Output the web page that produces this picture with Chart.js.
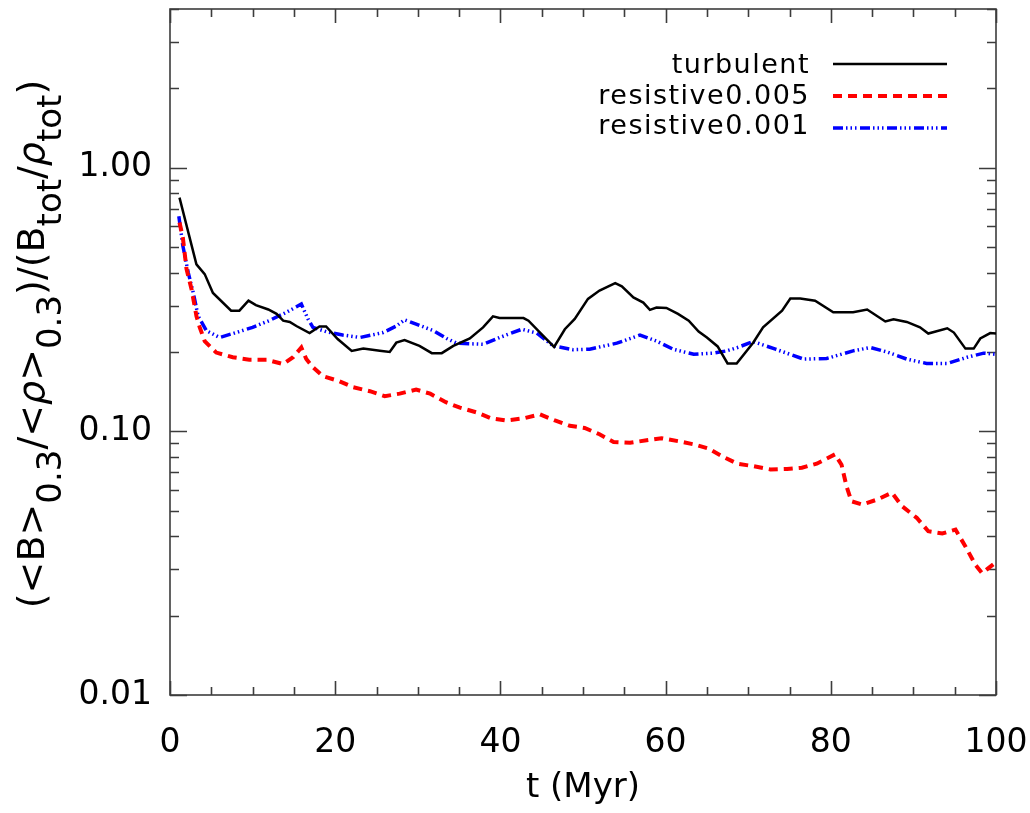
<!DOCTYPE html>
<html>
<head>
<meta charset="utf-8">
<script src="https://cdn.jsdelivr.net/npm/chart.js@4.4.1/dist/chart.umd.min.js"></script>
<style>
  html, body { margin: 0; padding: 0; background: #fff; }
</style>
</head>
<body>
<canvas id="myChart" width="1030" height="813"></canvas>
<script>
// time (Myr) and normalised field ratio for each run
const tTurb = [1.15, 3.2, 4.2, 5.2, 7.4, 8.4, 9.5, 10.4, 11.9, 12.9, 13.7, 14.5, 15.3, 16.9, 18.1,
  18.9, 20.3, 22.0, 23.4, 25.4, 26.6, 27.4, 28.4, 30.2, 31.7, 32.9, 34.3, 36.3, 37.9, 39.1,
  39.9, 42.8, 43.4, 44.8, 46.5, 47.8, 49.0, 50.6, 52.0, 53.9, 54.7, 56.1, 57.3, 58.1, 58.9,
  60.1, 61.5, 62.8, 64.0, 65.0, 66.3, 67.5, 68.6, 70.6, 71.8, 74.1, 75.1, 76.3, 78.1, 80.3,
  82.7, 84.4, 86.6, 87.6, 89.2, 90.8, 91.8, 94.1, 94.9, 96.3, 97.3, 98.1, 99.3, 100];
const turbulent = [0.77, 0.43, 0.395, 0.335, 0.287, 0.287, 0.313, 0.301, 0.29, 0.279, 0.263, 0.26, 0.251, 0.236, 0.25,
  0.25, 0.224, 0.202, 0.206, 0.202, 0.2, 0.217, 0.222, 0.211, 0.198, 0.198, 0.211, 0.225, 0.248, 0.273,
  0.269, 0.269, 0.263, 0.237, 0.209, 0.244, 0.267, 0.318, 0.342, 0.365, 0.355, 0.322, 0.308, 0.289, 0.295,
  0.294, 0.279, 0.263, 0.239, 0.227, 0.21, 0.181, 0.181, 0.217, 0.248, 0.287, 0.319, 0.319, 0.313, 0.283,
  0.283, 0.29, 0.261, 0.266, 0.26, 0.248, 0.235, 0.246, 0.237, 0.206, 0.206, 0.225, 0.236, 0.235];

const tRes5 = [1.15, 1.55, 2.0, 2.6, 3.2, 3.6, 4.2, 5.6, 7.6, 9.6, 11.7, 13.7, 14.9, 15.9, 16.5,
  17.3, 18.5, 20.5, 22.2, 24.2, 26.0, 27.8, 29.8, 31.5, 33.4, 35.1, 37.1, 38.9, 40.7, 42.8,
  44.8, 46.6, 48.4, 50.2, 52.0, 53.7, 55.7, 57.7, 59.5, 61.5, 63.4, 65.2, 67.0, 68.7, 70.6,
  72.7, 74.7, 76.5, 78.3, 79.7, 80.5, 81.3, 81.9, 82.5, 83.8, 85.6, 87.4, 88.6, 90.4, 91.8,
  93.5, 95.1, 96.3, 97.5, 98.3, 100];
const resistive005 = [0.62, 0.545, 0.413, 0.347, 0.274, 0.248, 0.22, 0.199, 0.191, 0.187, 0.187, 0.18, 0.191, 0.208, 0.188,
  0.175, 0.162, 0.155, 0.147, 0.142, 0.136, 0.139, 0.144, 0.139, 0.129, 0.123, 0.118, 0.112, 0.11, 0.112,
  0.116, 0.11, 0.105, 0.103, 0.0975, 0.0911, 0.0905, 0.0925, 0.0942, 0.0918, 0.0893, 0.086, 0.08, 0.0754, 0.0738,
  0.0717, 0.072, 0.0728, 0.0754, 0.0794, 0.0818, 0.0747, 0.062, 0.0543, 0.0528, 0.0551, 0.0585, 0.0521, 0.047, 0.0418,
  0.041, 0.0424, 0.0366, 0.0312, 0.029, 0.0319];

const tRes1 = [1.07, 1.55, 2.2, 2.8, 3.4, 4.4, 6.0, 8.0, 10.0, 12.0, 14.1, 15.9, 16.7, 17.3, 18.9,
  20.9, 23.0, 25.8, 27.4, 28.4, 29.8, 31.9, 33.5, 34.7, 37.9, 39.9, 42.6, 44.4, 46.4, 48.8,
  50.8, 54.1, 56.9, 58.9, 60.9, 63.4, 65.8, 67.4, 68.7, 70.6, 73.3, 76.7, 79.5, 82.7, 84.8,
  86.8, 89.2, 91.6, 94.1, 96.5, 98.5, 100];
const resistive001 = [0.655, 0.507, 0.401, 0.337, 0.274, 0.241, 0.227, 0.237, 0.248, 0.263, 0.283, 0.304, 0.267, 0.248, 0.239,
  0.232, 0.227, 0.237, 0.251, 0.265, 0.255, 0.241, 0.225, 0.216, 0.214, 0.227, 0.244, 0.236, 0.211, 0.204,
  0.205, 0.216, 0.232, 0.22, 0.205, 0.196, 0.198, 0.202, 0.208, 0.219, 0.205, 0.188, 0.189, 0.202, 0.208,
  0.2, 0.188, 0.181, 0.181, 0.191, 0.198, 0.196];

const xTickLabels = [0, 20, 40, 60, 80, 100];
const yTickLabels = [0.01, 0.1, 1];

const FONT = "'DejaVu Sans', sans-serif";
const pairs = (ts, vs) => ts.map((t, i) => ({ x: t, y: vs[i] }));

// keep the plot box where the layout puts it, not where the edge labels want it
const noEdgePadding = s => {
  s.paddingTop = 0; s.paddingBottom = 0; s.paddingLeft = 0; s.paddingRight = 0;
};

// IDL-style box with inward ticks on all four sides
const frameTicks = {
  id: 'frameTicks',
  beforeDatasetsDraw(chart) {
    const { ctx, chartArea: a, scales: { x, y } } = chart;
    ctx.save();
    ctx.strokeStyle = '#3c3c3c';
    ctx.lineWidth = 1.6;
    ctx.beginPath();
    for (let t = 0; t <= 100; t += 5) {
      const px = Math.round(x.getPixelForValue(t)) + 0.5;
      const len = t % 20 === 0 ? 14 : 8;
      ctx.moveTo(px, a.bottom); ctx.lineTo(px, a.bottom - len);
      ctx.moveTo(px, a.top); ctx.lineTo(px, a.top + len);
    }
    for (let e = -2; e <= 0; e++) {
      for (let k = 1; k <= 9; k++) {
        const v = k * Math.pow(10, e);
        if (v > y.max + 1e-9) break;
        const py = Math.round(y.getPixelForValue(v)) + 0.5;
        const len = k === 1 ? 17 : 9;
        ctx.moveTo(a.left, py); ctx.lineTo(a.left + len, py);
        ctx.moveTo(a.right, py); ctx.lineTo(a.right - len, py);
      }
    }
    ctx.stroke();
    ctx.strokeRect(a.left, a.top, a.right - a.left, a.bottom - a.top);
    ctx.restore();
  }
};

// legend: right-aligned names with line samples to their right
const sideLegend = {
  id: 'sideLegend',
  afterDraw(chart) {
    const { ctx } = chart;
    const baselines = [73, 104, 134];
    const lineY = [64, 96, 128];
    ctx.save();
    ctx.font = '27px ' + FONT;
    if ('letterSpacing' in ctx) ctx.letterSpacing = '1.5px';
    ctx.textAlign = 'right';
    ctx.textBaseline = 'alphabetic';
    ctx.fillStyle = '#000';
    chart.data.datasets.forEach((ds, i) => {
      ctx.fillText(ds.label, 810, baselines[i]);
      ctx.beginPath();
      ctx.strokeStyle = ds.borderColor;
      ctx.lineWidth = ds.borderWidth;
      ctx.lineCap = 'butt';
      ctx.setLineDash(ds.borderDash || []);
      ctx.moveTo(833, lineY[i]);
      ctx.lineTo(947, lineY[i]);
      ctx.stroke();
    });
    ctx.restore();
  }
};

// rotated y-axis title with subscripts
const yTitle = {
  id: 'yTitle',
  afterDraw(chart) {
    const { ctx, chartArea: a } = chart;
    const parts = [
      ['(<B>', 0], ['0.3', 1], ['/<', 0], ['ρ', 2], ['>', 0], ['0.3', 1],
      [')/(B', 0], ['tot', 1], ['/', 0], ['ρ', 2], ['tot', 1], [')', 0]
    ];
    const fontFor = k => (k === 2 ? 'italic ' : '') + (k === 1 ? '34px ' : '38px ') + FONT;
    ctx.save();
    let total = 0;
    parts.forEach(([s, k]) => { ctx.font = fontFor(k); total += ctx.measureText(s).width; });
    ctx.translate(44, (a.top + a.bottom) / 2 - 8);
    ctx.rotate(-Math.PI / 2);
    ctx.fillStyle = '#000';
    ctx.textBaseline = 'alphabetic';
    let cx = -total / 2;
    parts.forEach(([s, k]) => {
      ctx.font = fontFor(k);
      ctx.fillText(s, cx, k === 1 ? 17 : 0);
      cx += ctx.measureText(s).width;
    });
    ctx.restore();
  }
};

const data = {
  datasets: [
    {
      label: 'turbulent',
      data: pairs(tTurb, turbulent),
      borderColor: '#000000',
      borderWidth: 2.5
    },
    {
      label: 'resistive0.005',
      data: pairs(tRes5, resistive005),
      borderColor: '#ff0000',
      borderWidth: 4,
      borderDash: [9, 6]
    },
    {
      label: 'resistive0.001',
      data: pairs(tRes1, resistive001),
      borderColor: '#0000ff',
      borderWidth: 3.5,
      borderDash: [10, 3, 1.5, 3, 1.5, 3, 1.5, 3.5]
    }
  ]
};

const config = {
  type: 'line',
  data: data,
  plugins: [frameTicks, sideLegend, yTitle],
  options: {
    responsive: false,
    animation: false,
    layout: { padding: { top: 9, right: 34, left: 0, bottom: 0 } },
    elements: { point: { radius: 0 }, line: { tension: 0, borderCapStyle: 'butt' } },
    plugins: { legend: { display: false }, tooltip: { enabled: false } },
    scales: {
      x: {
        type: 'linear',
        min: 0,
        max: 100,
        grid: { display: false, drawTicks: false },
        border: { display: false },
        afterBuildTicks: s => { s.ticks = xTickLabels.map(v => ({ value: v })); },
        ticks: { color: '#000', font: { family: FONT, size: 33 }, padding: 29, maxRotation: 0 },
        title: { display: true, text: 't (Myr)', color: '#000', font: { family: FONT, size: 34 }, padding: { top: 0, bottom: 4 } },
        afterFit: s => { s.height = 118; noEdgePadding(s); }
      },
      y: {
        type: 'logarithmic',
        min: 0.01,
        max: 4,
        grid: { display: false, drawTicks: false },
        border: { display: false },
        afterBuildTicks: s => { s.ticks = yTickLabels.map(v => ({ value: v })); },
        ticks: {
          color: '#000',
          font: { family: FONT, size: 33 },
          padding: 18,
          callback: v => Number(v).toFixed(2)
        },
        afterFit: s => { s.width = 170; noEdgePadding(s); }
      }
    }
  }
};

const ctx = document.getElementById('myChart').getContext('2d');
const myChart = new Chart(ctx, config);
</script>
</body>
</html>
